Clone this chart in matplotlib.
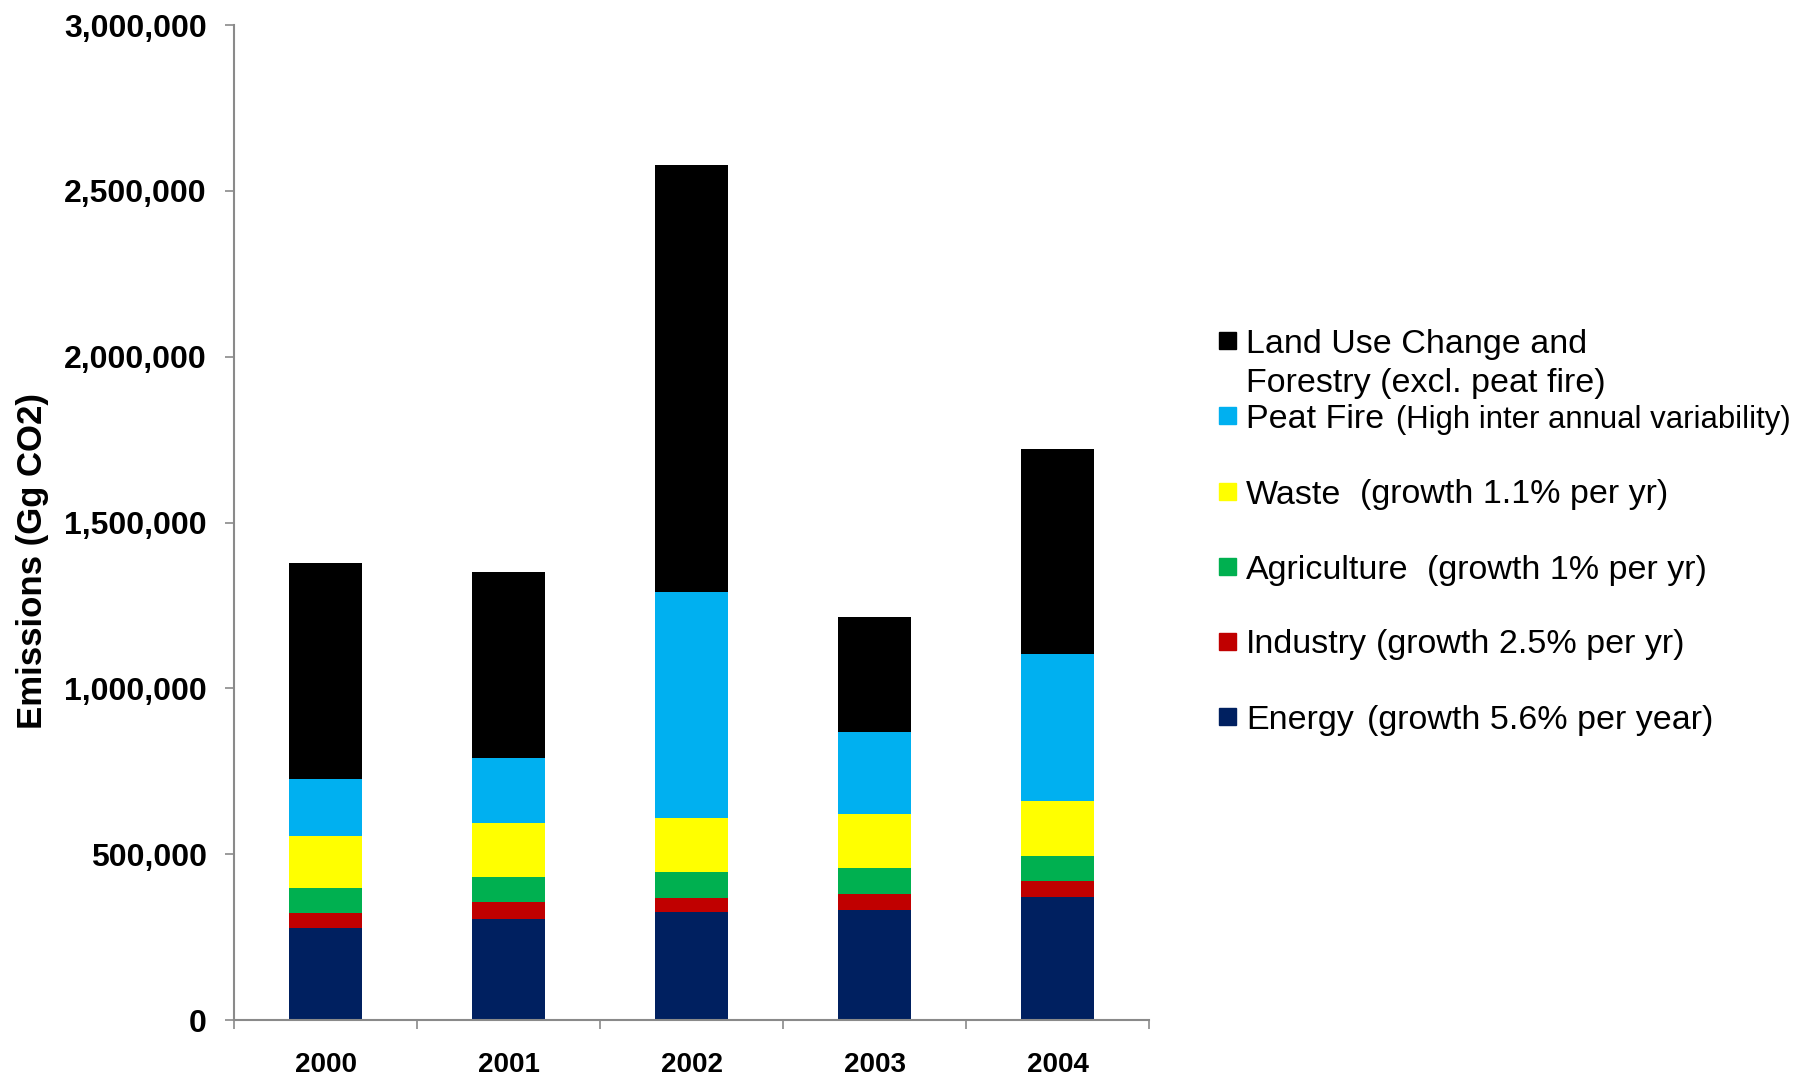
import numpy as np
import matplotlib.pyplot as plt
from matplotlib.patches import Rectangle
from matplotlib.ticker import FuncFormatter, MultipleLocator, FixedLocator

# emissions by sector, Gg CO2
years = ['2000', '2001', '2002', '2003', '2004']
energy = [277500, 305000, 325700, 332600, 370400]
industry = [46000, 50500, 42500, 46000, 49500]
agriculture = [74500, 77000, 79000, 79000, 75500]
waste = [157000, 162000, 163000, 164000, 166000]
peat_fire = [171000, 194000, 679000, 248000, 441500]
lucf = [651000, 561000, 1288000, 345000, 618500]

series = [energy, industry, agriculture, waste, peat_fire, lucf]
colors = ['#002060', '#C00000', '#00B050', '#FFFF00', '#00B0F0', '#000000']

W, H = 1801, 1076
fig = plt.figure(figsize=(W / 100, H / 100), dpi=100)
ax = fig.add_axes([234 / W, 1 - 1020 / H, (1149 - 234) / W, (1020 - 25) / H])

x = np.arange(len(years))
bottom = np.zeros(len(years))
for vals, c in zip(series, colors):
    ax.bar(x, vals, width=0.40, bottom=bottom, color=c, edgecolor='none', zorder=2)
    bottom += np.array(vals)

ax.set_xlim(-0.5, len(years) - 0.5)
ax.set_ylim(0, 3000000)
ax.yaxis.set_major_locator(MultipleLocator(500000))
ax.yaxis.set_major_formatter(FuncFormatter(lambda v, p: '{:,.0f}'.format(v)))

ax.set_xticks(x)
ax.set_xticklabels(years)
ax.xaxis.set_minor_locator(FixedLocator(np.arange(-0.5, len(years), 1.0)))

for s in ['top', 'right']:
    ax.spines[s].set_visible(False)
for s in ['left', 'bottom']:
    ax.spines[s].set_color('#8a8a8a')
    ax.spines[s].set_linewidth(1.5)

ax.tick_params(axis='y', direction='out', length=6.5, width=1.2, color='#8a8a8a', pad=13)
ax.tick_params(axis='x', which='major', length=0, pad=23)
ax.tick_params(axis='x', which='minor', direction='out', length=6.5, width=1.2, color='#8a8a8a')

for lab in ax.get_yticklabels():
    lab.set_fontfamily('Liberation Sans')
    lab.set_fontweight('bold')
    lab.set_fontsize(23)
for lab in ax.get_xticklabels():
    lab.set_fontfamily('Liberation Sans')
    lab.set_fontweight('bold')
    lab.set_fontsize(20)

ax.set_ylabel('Emissions (Gg CO2)', fontsize=25, fontweight='bold', family='Liberation Sans')
ax.yaxis.label.set_va('center')
ax.yaxis.set_label_coords((33 - 234) / 915, (1020 - 561) / 995)

# legend drawn by hand: squares and labels in pixel positions
def fx(px):
    return px / W

def fy(py):
    return 1 - py / H

leg_colors = colors[::-1]
leg_names = ['Land Use Change and', 'Peat Fire', 'Waste', 'Agriculture', 'Industry', 'Energy']
leg_notes = ['', '(High inter annual variability)', '(growth 1.1% per yr)',
             '(growth 1% per yr)', '(growth 2.5% per yr)', '(growth 5.6% per year)']
note_x = [0, 1396, 1360, 1427, 1376, 1367]
centers = [340.5, 415.5, 491, 566, 641, 716]

for col, name, note, nx, cy in zip(leg_colors, leg_names, leg_notes, note_x, centers):
    fig.add_artist(Rectangle((fx(1219), fy(cy + 8.5)), 17 / W, 17 / H,
                             transform=fig.transFigure, color=col))
    fig.text(fx(1246), fy(cy + 12.5), name, fontsize=24.5, family='Liberation Sans', va='baseline')
    if note:
        fs = 22.4 if name == 'Peat Fire' else 24.5
        fig.text(fx(nx), fy(cy + 12.5), note, fontsize=fs, family='Liberation Sans', va='baseline')

fig.text(fx(1246), fy(392), 'Forestry (excl. peat fire)', fontsize=24.5,
         family='Liberation Sans', va='baseline')

fig.savefig('out.png', dpi=100)
